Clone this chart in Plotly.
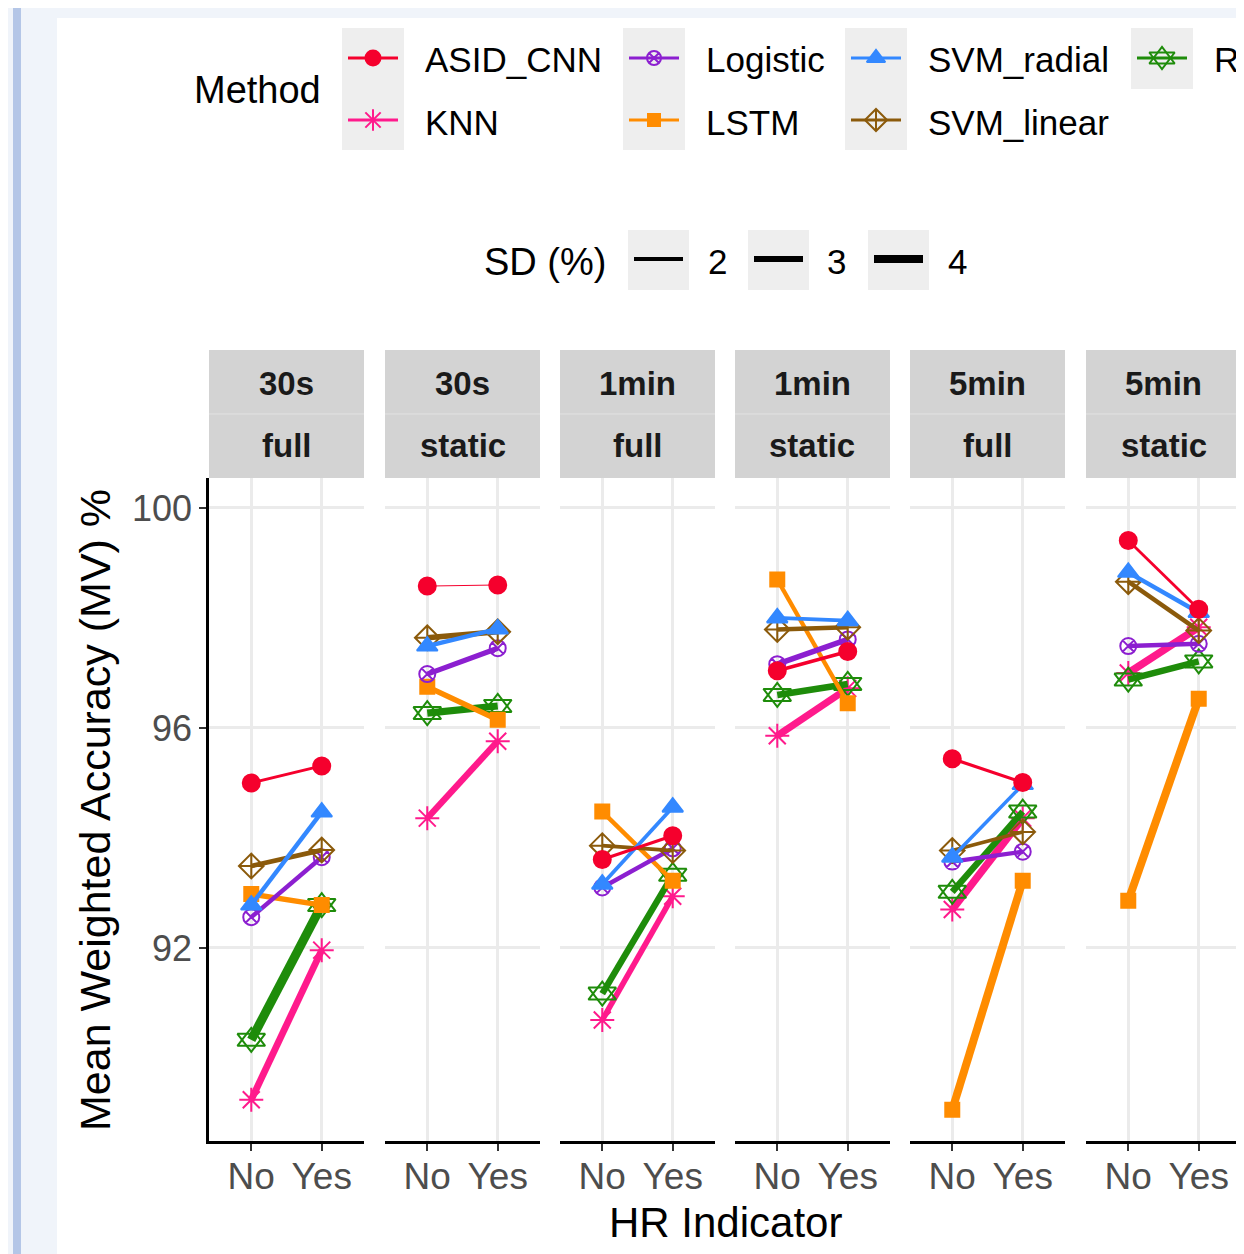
import plotly.graph_objects as go

# ---------------- data ----------------
methods = ["ASID_CNN", "KNN", "Logistic", "LSTM", "SVM_radial", "SVM_linear", "RF"]
hr_levels = ["No", "Yes"]
panel_window = ["30s", "30s", "1min", "1min", "5min", "5min"]
panel_feature = ["full", "static", "full", "static", "full", "static"]

# accuracy values [No, Yes] per panel (order of panels above)
acc_ASID_CNN   = [[95.00, 95.31], [98.58, 98.60], [93.61, 94.04], [97.04, 97.39], [95.44, 95.01], [99.41, 98.16]]
acc_KNN        = [[89.24, 91.96], [94.36, 95.76], [90.69, 92.94], [95.86, 96.72], [92.70, 94.36], [97.00, 97.83]]
acc_Logistic   = [[92.56, 93.65], [96.98, 97.45], [93.10, 93.81], [97.16, 97.61], [93.57, 93.75], [97.49, 97.53]]
acc_LSTM       = [[92.98, 92.78], [96.75, 96.15], [94.48, 93.22], [98.70, 96.45], [89.06, 93.22], [92.86, 96.53]]
acc_SVM_radial = [[92.78, 94.47], [97.49, 97.80], [93.16, 94.56], [98.00, 97.95], [93.65, 94.97], [98.83, 98.10]]
acc_SVM_linear = [[93.49, 93.78], [97.64, 97.75], [93.86, 93.77], [97.79, 97.83], [93.77, 94.11], [98.66, 97.77]]
acc_RF         = [[90.33, 92.78], [96.27, 96.40], [91.17, 93.33], [96.60, 96.80], [93.02, 94.48], [96.88, 97.21]]

# SD (%) per panel (controls line width)
sd_ASID_CNN   = [1.4, 0.5, 1.6, 1.8, 1.6, 1.4]
sd_KNN        = [3.4, 3.2, 2.8, 3.6, 3.8, 3.8]
sd_Logistic   = [2.2, 2.6, 2.2, 2.7, 2.2, 2.2]
sd_LSTM       = [2.7, 2.7, 2.2, 2.2, 4.0, 4.0]
sd_SVM_radial = [2.2, 2.2, 1.9, 1.9, 1.8, 2.2]
sd_SVM_linear = [2.4, 2.7, 1.9, 2.2, 1.8, 2.2]
sd_RF         = [4.5, 3.6, 3.2, 3.2, 3.2, 3.2]

sd_breaks = [2, 3, 4]
y_ticks = [92, 96, 100]

acc = {"ASID_CNN": acc_ASID_CNN, "KNN": acc_KNN, "Logistic": acc_Logistic, "LSTM": acc_LSTM,
       "SVM_radial": acc_SVM_radial, "SVM_linear": acc_SVM_linear, "RF": acc_RF}
sds = {"ASID_CNN": sd_ASID_CNN, "KNN": sd_KNN, "Logistic": sd_Logistic, "LSTM": sd_LSTM,
       "SVM_radial": sd_SVM_radial, "SVM_linear": sd_SVM_linear, "RF": sd_RF}

# ---------------- styles ----------------
colors = {"ASID_CNN": "#F5002D", "KNN": "#FF1A8C", "Logistic": "#8C1FD0", "LSTM": "#FF8C00",
          "SVM_radial": "#3388FF", "SVM_linear": "#8B5A0B", "RF": "#1E8C0A"}
# RF uses two overlaid open triangles (star of David); second symbol listed separately
symbols = {"ASID_CNN": "circle", "KNN": "asterisk-open", "Logistic": "circle-x-open", "LSTM": "square",
           "SVM_radial": "triangle-up", "SVM_linear": "diamond-cross-open", "RF": "triangle-up-open"}
extra_symbol = {"RF": "triangle-down-open"}
msize = {"ASID_CNN": 17, "KNN": 20, "Logistic": 16, "LSTM": 14,
         "SVM_radial": 18, "SVM_linear": 19, "RF": 24}
draw_order = ["KNN", "RF", "LSTM", "Logistic", "SVM_linear", "SVM_radial", "ASID_CNN"]

W, H = 1244, 1254
OFF = 8  # page body margin
FONT = "Liberation Sans, Arial, Helvetica, sans-serif"

def px(x):
    return (x - OFF) / W

def py(y):
    return 1 - (y - OFF) / H

panel_left = [209, 385, 560, 735, 910, 1086]
panel_w = 155
plot_top, plot_bottom = 478, 1141
strip_top = 350
y_range = [88.49, 100.545]

def lw(sd):
    return 2.0 * sd

fig = go.Figure()
layout = dict(
    width=W, height=H,
    margin=dict(l=0, r=0, t=0, b=0),
    paper_bgcolor="#F0F4FA",
    plot_bgcolor="rgba(0,0,0,0)",
    showlegend=False,
    font=dict(family=FONT, color="black"),
)

shapes = []
annotations = []

# page decoration
shapes.append(dict(type="rect", xref="paper", yref="paper", x0=px(57), x1=px(W + 20), y0=py(H + 20), y1=py(18),
                   fillcolor="white", line=dict(width=0), layer="below"))
shapes.append(dict(type="rect", xref="paper", yref="paper", x0=px(13), x1=px(21), y0=py(H + 20), y1=py(0),
                   fillcolor="#B4C6E7", line=dict(width=0), layer="below"))

for i in range(6):
    xa = "xaxis" if i == 0 else f"xaxis{i+1}"
    ya = "yaxis" if i == 0 else f"yaxis{i+1}"
    xr = "x" if i == 0 else f"x{i+1}"
    yr = "y" if i == 0 else f"y{i+1}"
    layout[xa] = dict(
        domain=[px(panel_left[i]), px(panel_left[i] + panel_w)],
        anchor=yr, type="category", categoryorder="array", categoryarray=hr_levels,
        range=[-0.6, 1.6], showgrid=True, gridcolor="#EBEBEB", gridwidth=2.5,
        showline=True, linecolor="black", linewidth=2.5,
        ticks="outside", ticklen=7, tickwidth=2, tickcolor="#333333", ticklabelstandoff=-6,
        tickfont=dict(size=37, color="#4D4D4D", family=FONT), zeroline=False, fixedrange=True,
    )
    layout[ya] = dict(
        domain=[py(plot_bottom), py(plot_top)], anchor=xr, range=y_range,
        tickvals=y_ticks, showgrid=True, gridcolor="#EBEBEB", gridwidth=2.5, zeroline=False,
        showline=(i == 0), linecolor="black", linewidth=2.5,
        ticks="outside" if i == 0 else "", ticklen=7, tickwidth=2, tickcolor="#333333",
        showticklabels=(i == 0), tickfont=dict(size=36, color="#4D4D4D", family=FONT), fixedrange=True,
    )
    # strips
    x0, x1 = px(panel_left[i]), px(panel_left[i] + panel_w)
    shapes.append(dict(type="rect", xref="paper", yref="paper", x0=x0, x1=x1, y0=py(plot_top), y1=py(strip_top),
                       fillcolor="#D3D3D3", line=dict(width=0), layer="below"))
    shapes.append(dict(type="line", xref="paper", yref="paper", x0=x0, x1=x1, y0=py(414), y1=py(414),
                       line=dict(color="#E2E2E2", width=1), layer="below"))
    cx = px(panel_left[i] + panel_w / 2)
    annotations.append(dict(xref="paper", yref="paper", x=cx, y=py(383), text=f"<b>{panel_window[i]}</b>",
                            showarrow=False, font=dict(size=33, color="#1A1A1A", family=FONT),
                            xanchor="center", yanchor="middle"))
    annotations.append(dict(xref="paper", yref="paper", x=cx, y=py(446), text=f"<b>{panel_feature[i]}</b>",
                            showarrow=False, font=dict(size=33, color="#1A1A1A", family=FONT),
                            xanchor="center", yanchor="middle"))

    for m in draw_order:
        fig.add_trace(go.Scatter(
            x=hr_levels, y=acc[m][i], xaxis=xr, yaxis=yr, mode="lines+markers", name=m,
            line=dict(color=colors[m], width=lw(sds[m][i])),
            marker=dict(symbol=symbols[m], size=msize[m], color=colors[m], line=dict(color=colors[m], width=2)),
            hoverinfo="x+y+name",
        ))
        if m in extra_symbol:
            fig.add_trace(go.Scatter(
                x=hr_levels, y=acc[m][i], xaxis=xr, yaxis=yr, mode="markers", name=m,
                marker=dict(symbol=extra_symbol[m], size=msize[m], color=colors[m],
                            line=dict(color=colors[m], width=2)),
                hoverinfo="skip",
            ))

# axis titles
annotations.append(dict(xref="paper", yref="paper", x=px(725), y=py(1222), text="HR Indicator", showarrow=False,
                        font=dict(size=42, color="black", family=FONT), xanchor="center", yanchor="middle"))
annotations.append(dict(xref="paper", yref="paper", x=px(95), y=py(810), text="Mean Weighted Accuracy (MV) %",
                        showarrow=False, textangle=-90, font=dict(size=43, color="black", family=FONT),
                        xanchor="center", yanchor="middle"))

# ---------------- legends (overlay axis in page-pixel units) ----------------
layout["xaxis7"] = dict(domain=[0, 1], range=[OFF, W + OFF], visible=False, fixedrange=True, anchor="y7")
layout["yaxis7"] = dict(domain=[0, 1], range=[H + OFF, OFF], visible=False, fixedrange=True, anchor="x7")

key_cols = [342, 623, 845, 1131]
key_w = 62
row_y = [58, 120]
legend_layout = [("ASID_CNN", 0, 0), ("KNN", 0, 1), ("Logistic", 1, 0), ("LSTM", 1, 1),
                 ("SVM_radial", 2, 0), ("SVM_linear", 2, 1), ("RF", 3, 0)]
col_rows = [2, 2, 2, 1]
for c, kx in enumerate(key_cols):
    y1 = 28 + 61 * col_rows[c]
    shapes.append(dict(type="rect", xref="x7", yref="y7", x0=kx, x1=kx + key_w, y0=28, y1=y1,
                       fillcolor="#EEEEEE", line=dict(width=0), layer="below"))
annotations.append(dict(xref="paper", yref="paper", x=px(192), y=py(90), text="Method", showarrow=False,
                        font=dict(size=38, color="black", family=FONT), xanchor="left", yanchor="middle"))
for m, c, r in legend_layout:
    kx = key_cols[c]
    yy = row_y[r]
    fig.add_trace(go.Scatter(x=[kx + 6, kx + key_w - 6], y=[yy, yy], xaxis="x7", yaxis="y7", mode="lines",
                             line=dict(color=colors[m], width=3), hoverinfo="skip"))
    for sym in [symbols[m]] + ([extra_symbol[m]] if m in extra_symbol else []):
        fig.add_trace(go.Scatter(x=[kx + key_w / 2], y=[yy], xaxis="x7", yaxis="y7", mode="markers",
                                 marker=dict(symbol=sym, size=msize[m] - 2, color=colors[m],
                                             line=dict(color=colors[m], width=2)), hoverinfo="skip"))
    annotations.append(dict(xref="paper", yref="paper", x=px(kx + key_w + 19), y=py(yy + 2), text=m,
                            showarrow=False, font=dict(size=35, color="black", family=FONT),
                            xanchor="left", yanchor="middle"))

sd_keys = [628, 748, 868]
annotations.append(dict(xref="paper", yref="paper", x=px(482), y=py(262), text="SD (%)", showarrow=False,
                        font=dict(size=38, color="black", family=FONT), xanchor="left", yanchor="middle"))
for kx, b in zip(sd_keys, sd_breaks):
    shapes.append(dict(type="rect", xref="x7", yref="y7", x0=kx, x1=kx + 61, y0=230, y1=290,
                       fillcolor="#EEEEEE", line=dict(width=0), layer="below"))
    fig.add_trace(go.Scatter(x=[kx + 6, kx + 55], y=[259, 259], xaxis="x7", yaxis="y7", mode="lines",
                             line=dict(color="black", width=lw(b)), hoverinfo="skip"))
    annotations.append(dict(xref="paper", yref="paper", x=px(kx + 89), y=py(262), text=str(b), showarrow=False,
                            font=dict(size=35, color="black", family=FONT), xanchor="center", yanchor="middle"))

layout["shapes"] = shapes
layout["annotations"] = annotations
fig.update_layout(**layout)
fig.write_html("out.html")
